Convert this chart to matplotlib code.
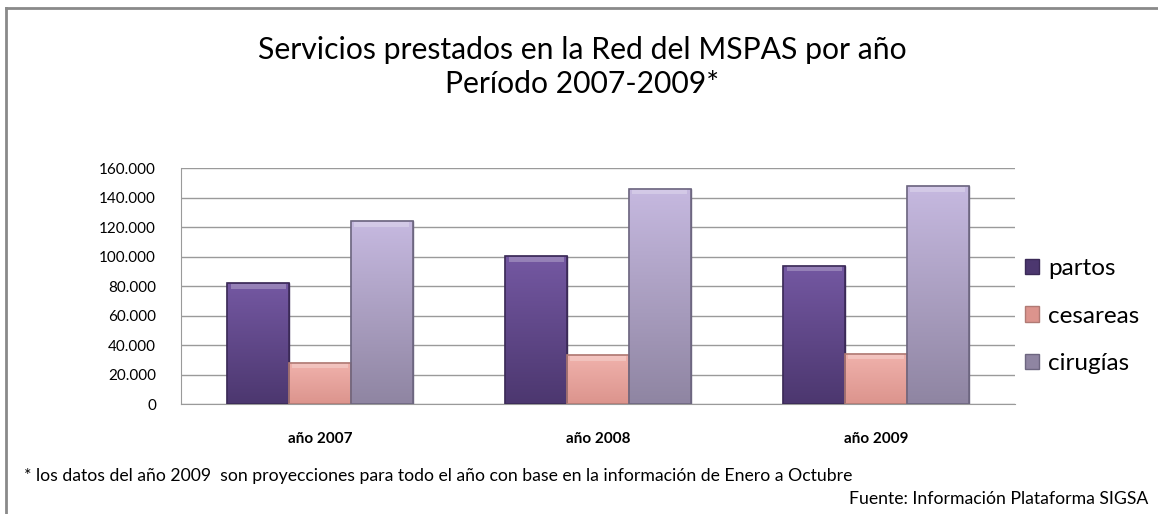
import numpy as np
import matplotlib
matplotlib.use("Agg")
import matplotlib.pyplot as plt
from matplotlib.lines import Line2D
from matplotlib.patches import Patch

years = ["año 2007", "año 2008", "año 2009"]
series = ["partos", "cesareas", "cirugías"]
partos = [81800, 100300, 93800]
cesareas = [28000, 33000, 34100]
cirugias = [123900, 146000, 147800]
yticks = [0, 20000, 40000, 60000, 80000, 100000, 120000, 140000, 160000]

colors_top = ["#7458a2", "#f0b2ac", "#c6b9e0"]
colors_bot = ["#4c376f", "#dc948d", "#8f85a2"]
edges = ["#3b2a57", "#b07a74", "#6d6680"]

plt.rcParams["font.family"] = ["Lato", "DejaVu Sans"]

fig = plt.figure(figsize=(11.58, 5.14), dpi=100)
ax = fig.add_axes([0.1563, 0.214, 0.7202, 0.459])

x = np.arange(len(years))
w = 0.222
values = [partos, cesareas, cirugias]

for i, vals in enumerate(values):
    bars = ax.bar(x + (i - 1) * w, vals, w, color=colors_bot[i],
                  edgecolor=edges[i], linewidth=1, zorder=3)
    c1 = np.array(matplotlib.colors.to_rgb(colors_top[i]))
    c2 = np.array(matplotlib.colors.to_rgb(colors_bot[i]))
    t = np.linspace(0, 1, 100)[:, None]
    grad = (c1 * (1 - t) + c2 * t)[:, None, :]
    for b in bars:
        bx, by = b.get_x(), b.get_y()
        bw, bh = b.get_width(), b.get_height()
        im = ax.imshow(grad, extent=[bx, bx + bw, by, by + bh], aspect="auto",
                       origin="upper", zorder=3.5)
        im.set_clip_path(b)
        # light bevel on the top edge
        ax.bar(bx + bw / 2, 3500, bw * 0.9, bottom=by + bh - 3900,
               color="white", alpha=0.25, linewidth=0, zorder=4)
        ax.bar(bx + bw / 2, bh, bw, bottom=by, fill=False,
               edgecolor=edges[i], linewidth=1.2, zorder=5)

ax.set_xlim(-0.5, 2.5)
ax.set_ylim(0, 160000)
ax.set_yticks(yticks)
ax.set_yticklabels([f"{v:,}".replace(",", ".") for v in yticks], fontsize=11)
ax.set_xticks(x)
ax.set_xticklabels(years, fontsize=11, fontweight="bold")
ax.tick_params(axis="y", length=0, pad=18)
ax.tick_params(axis="x", length=0, pad=20)
ax.yaxis.grid(True, color="#9a9a9a", linewidth=1, zorder=0)
ax.set_axisbelow(True)
for s in ["top", "right"]:
    ax.spines[s].set_visible(False)
for s in ["left", "bottom"]:
    ax.spines[s].set_color("#9a9a9a")

handles = [Patch(facecolor=colors_bot[i], edgecolor=edges[i]) for i in range(3)]
leg = fig.legend(handles, series, loc="upper left", bbox_to_anchor=(0.866, 0.54),
                 frameon=False, fontsize=17.5, handlelength=0.6, handleheight=0.6,
                 handletextpad=0.35, labelspacing=1.08)

fig.text(0.503, 0.903, "Servicios prestados en la Red del MSPAS por año",
         ha="center", va="center", fontsize=21.7)
fig.text(0.503, 0.837, "Período 2007-2009*", ha="center", va="center", fontsize=21.7)

fig.text(0.021, 0.074,
         "* los datos del año 2009  son proyecciones para todo el año con base en la información de Enero a Octubre",
         ha="left", va="center", fontsize=12.7)
fig.text(0.992, 0.029, "Fuente: Información Plataforma SIGSA", ha="right",
         va="center", fontsize=12.7)

# frame lines of the slide
fig.add_artist(Line2D([0.0055, 0.0055], [0, 0.984], transform=fig.transFigure,
                      color="#8a8a8a", linewidth=2))
fig.add_artist(Line2D([0.0055, 1], [0.984, 0.984], transform=fig.transFigure,
                      color="#8a8a8a", linewidth=2))

fig.savefig("out.png", dpi=100)
